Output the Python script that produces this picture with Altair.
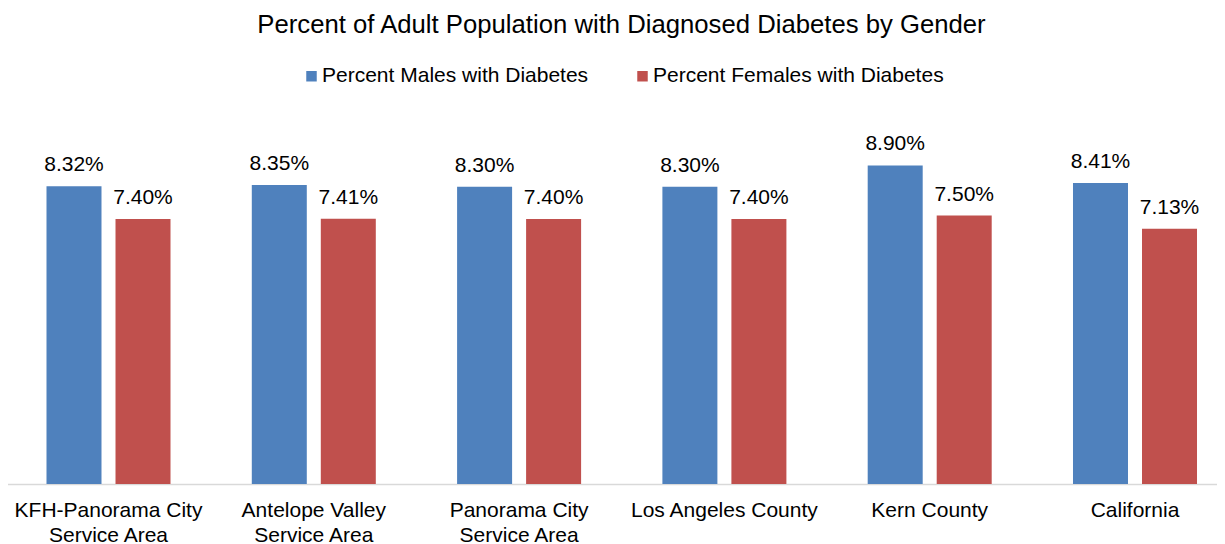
import altair as alt
import pandas as pd

categories = [
    "KFH-Panorama City\nService Area",
    "Antelope Valley\nService Area",
    "Panorama City\nService Area",
    "Los Angeles County",
    "Kern County",
    "California",
]
series = ["Percent Males with Diabetes", "Percent Females with Diabetes"]
males = [8.32, 8.35, 8.30, 8.30, 8.90, 8.41]
females = [7.40, 7.41, 7.40, 7.40, 7.50, 7.13]
colors = ["#4F81BD", "#C0504D"]

rows = []
for c, m, f in zip(categories, males, females):
    rows.append({"region": c, "series": series[0], "value": m})
    rows.append({"region": c, "series": series[1], "value": f})
df = pd.DataFrame(rows)

FONT = "Liberation Sans, Arial, sans-serif"

x = alt.X(
    "region:N",
    sort=categories,
    scale=alt.Scale(range=[-2.15, 1229.65], paddingInner=0, paddingOuter=0),
    axis=alt.Axis(
        title=None,
        labelExpr="split(datum.label, '\\n')",
        labelFontSize=21,
        labelFont=FONT,
        labelColor="#000000",
        labelAngle=0,
        labelPadding=15,
        labelLineHeight=25,
        labelLimit=0,
        ticks=False,
        domainColor="#D9D9D9",
        domainWidth=1.5,
        grid=False,
    ),
)
xo = alt.XOffset(
    "series:N",
    sort=series,
    scale=alt.Scale(domain=series, paddingInner=0.203, paddingOuter=0.589),
)
y = alt.Y("value:Q", scale=alt.Scale(domain=[0, 10]), axis=None)

color = alt.Color(
    "series:N",
    sort=series,
    scale=alt.Scale(domain=series, range=colors),
    legend=alt.Legend(
        title=None,
        orient="none",
        legendX=293,
        legendY=-60.5,
        direction="horizontal",
        symbolType="square",
        symbolSize=110,
        symbolStrokeWidth=0,
        labelFontSize=21,
        labelFont=FONT,
        labelColor="#000000",
        labelOffset=0,
        columnPadding=43,
        padding=0,
        labelLimit=0,
    ),
)

base = alt.Chart(df)
bars = base.mark_bar().encode(x=x, xOffset=xo, y=y, color=color)
labels = (
    base.transform_calculate(label="format(datum.value, '.2f') + '%'")
    .mark_text(dy=-15, baseline="alphabetic", fontSize=21, font=FONT, color="#000000")
    .encode(x=x, xOffset=xo, y=y, text="label:N")
)

chart = (
    alt.layer(bars, labels)
    .properties(
        width=1209,
        height=358,
        background="white",
        autosize=alt.AutoSizeParams(type="none"),
        padding={"left": 0, "right": 0, "top": 118, "bottom": 60},
        title=alt.TitleParams(
            text="Percent of Adult Population with Diagnosed Diabetes by Gender",
            fontSize=25.7,
            font=FONT,
            fontWeight="normal",
            color="#000000",
            anchor="middle",
            baseline="alphabetic",
            offset=7,
            dx=9,
        ),
    )
    .configure_view(strokeWidth=0, stroke="transparent")
)

chart.save("out.html", embed_options={"renderer": "svg", "actions": False})
